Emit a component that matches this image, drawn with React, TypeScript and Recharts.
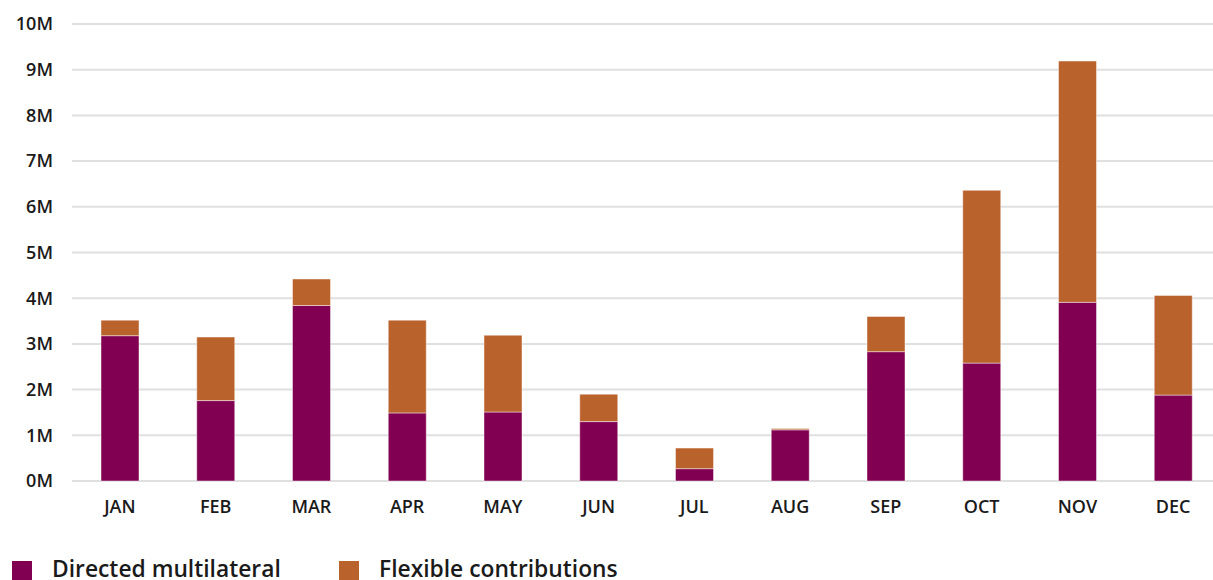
import { BarChart, Bar, XAxis, YAxis, CartesianGrid } from "recharts";

const MONTHS = ["JAN", "FEB", "MAR", "APR", "MAY", "JUN", "JUL", "AUG", "SEP", "OCT", "NOV", "DEC"];
// values in millions
const DIRECTED = [3.18, 1.76, 3.84, 1.49, 1.51, 1.3, 0.27, 1.12, 2.83, 2.58, 3.91, 1.88];
const FLEXIBLE = [0.34, 1.39, 0.58, 2.03, 1.68, 0.6, 0.45, 0.03, 0.77, 3.78, 5.28, 2.18];
const Y_TICKS = [0, 1, 2, 3, 4, 5, 6, 7, 8, 9, 10];

const DIRECTED_COLOR = "#820052";
const FLEXIBLE_COLOR = "#ba622b";
const FONT = "'Open Sans', 'Noto Sans', sans-serif";
const TEXT = "#1a1a1a";

const data = MONTHS.map((m, i) => ({ month: m, directed: DIRECTED[i], flexible: FLEXIBLE[i] }));

const TICK = { fill: TEXT, fontSize: 18, fontFamily: FONT, fontWeight: 600 };

function LegendItem({ color, label, left }: { color: string; label: string; left: number }) {
  return (
    <>
      <div style={{ position: "absolute", left, top: 561, width: 20, height: 20, background: color }} />
      <div
        style={{
          position: "absolute",
          left: left + 40,
          top: 554,
          fontFamily: FONT,
          fontSize: 22.8,
          fontWeight: 600,
          lineHeight: "30px",
          color: TEXT,
          whiteSpace: "nowrap",
        }}
      >
        {label}
      </div>
    </>
  );
}

export default function App() {
  return (
    <div
      style={{
        position: "fixed",
        top: 0,
        left: 0,
        width: 1213,
        height: 580,
        overflow: "hidden",
        background: "#fff",
      }}
    >
      <BarChart
        width={1221}
        height={530}
        data={data}
        margin={{ top: 24, right: 0, left: 0, bottom: 9 }}
        barSize={38}
      >
        <CartesianGrid stroke="#e0e0e0" strokeWidth={2} vertical={false} />
        <XAxis
          dataKey="month"
          tick={TICK}
          axisLine={false}
          tickLine={false}
          tickSize={0}
          tickMargin={19}
          height={40}
          interval={0}
        />
        <YAxis
          type="number"
          domain={[0, 10]}
          ticks={Y_TICKS}
          tickFormatter={(v: number) => `${v}M`}
          tick={TICK}
          axisLine={false}
          tickLine={false}
          tickSize={0}
          tickMargin={19}
          width={72}
          interval={0}
        />
        <Bar
          dataKey="directed"
          stackId="a"
          fill={DIRECTED_COLOR}
          stroke="#fff"
          strokeOpacity={0.45}
          strokeWidth={1}
          isAnimationActive={false}
        />
        <Bar
          dataKey="flexible"
          stackId="a"
          fill={FLEXIBLE_COLOR}
          stroke="#fff"
          strokeOpacity={0.45}
          strokeWidth={1}
          isAnimationActive={false}
        />
      </BarChart>
      <LegendItem color={DIRECTED_COLOR} label="Directed multilateral" left={12} />
      <LegendItem color={FLEXIBLE_COLOR} label="Flexible contributions" left={339} />
    </div>
  );
}
